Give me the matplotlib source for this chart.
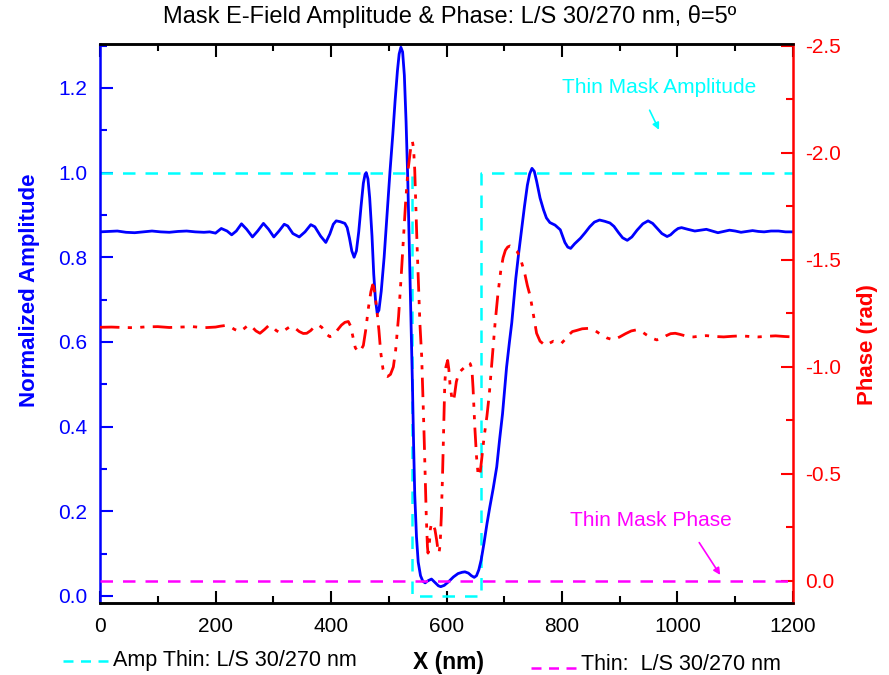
#!/usr/bin/env python3
# -*- coding: utf-8 -*-
"""Mask E-field amplitude & phase, L/S 30/270 nm, theta = 5 deg."""

import matplotlib as mpl
import matplotlib.pyplot as plt
from matplotlib.lines import Line2D
from matplotlib.ticker import FormatStrFormatter, MultipleLocator

mpl.rcParams["font.family"] = ["Liberation Sans", "DejaVu Sans"]
mpl.rcParams["axes.unicode_minus"] = False

# =======================
# Data
# =======================
AMP_X = [0, 15, 30, 45, 60, 75, 90, 105, 120, 135, 150, 165, 180, 190, 200,
         210, 220, 228, 236, 245, 254, 264, 273, 283, 292, 301, 310, 319, 325,
         334, 345, 355, 365, 372, 382, 391, 398, 404, 409, 416, 424, 428, 432,
         436, 440, 444, 448, 452, 456, 459, 461, 464, 467, 471, 474, 477, 480,
         483, 487, 492, 497, 502, 507, 511, 515, 518, 521, 524, 527, 530, 533,
         536, 539, 541, 543, 545, 548, 551, 555, 559, 563, 568, 574, 580, 586,
         590, 596, 603, 612, 620, 627, 632, 638, 643, 648, 652, 656, 660, 665,
         670, 675, 681, 687, 692, 697, 704, 709, 713, 720, 725, 730, 735, 740,
         744, 748, 752, 756, 762, 768, 773, 779, 788, 797, 805, 810, 815, 822,
         832, 840, 848, 856, 865, 874, 883, 890, 898, 905, 913, 921, 930, 940,
         949, 957, 965, 973, 982, 988, 995, 1001, 1007, 1018, 1030, 1040, 1050,
         1060, 1070, 1080, 1090, 1100, 1110, 1120, 1130, 1140, 1150, 1162,
         1175, 1187, 1200]
AMP_Y = [0.860, 0.861, 0.862, 0.859, 0.858, 0.860, 0.862, 0.860, 0.859, 0.861,
         0.862, 0.860, 0.859, 0.860, 0.857, 0.868, 0.862, 0.853, 0.862, 0.879,
         0.866, 0.848, 0.862, 0.880, 0.866, 0.848, 0.862, 0.878, 0.874, 0.856,
         0.848, 0.860, 0.877, 0.872, 0.850, 0.835, 0.855, 0.878, 0.886, 0.884,
         0.880, 0.870, 0.845, 0.815, 0.800, 0.815, 0.860, 0.920, 0.975, 0.996,
         1.000, 0.985, 0.940, 0.850, 0.760, 0.700, 0.668, 0.675, 0.720, 0.800,
         0.900, 1.000, 1.090, 1.170, 1.240, 1.280, 1.296, 1.285, 1.230, 1.120,
         0.980, 0.800, 0.628, 0.500, 0.360, 0.240, 0.140, 0.080, 0.048, 0.035,
         0.031, 0.036, 0.040, 0.032, 0.024, 0.022, 0.025, 0.033, 0.045, 0.053,
         0.056, 0.057, 0.054, 0.048, 0.044, 0.048, 0.062, 0.085, 0.125, 0.170,
         0.210, 0.255, 0.305, 0.370, 0.430, 0.540, 0.600, 0.645, 0.750, 0.810,
         0.865, 0.920, 0.970, 0.997, 1.010, 1.003, 0.980, 0.940, 0.912, 0.893,
         0.882, 0.876, 0.865, 0.835, 0.824, 0.821, 0.832, 0.845, 0.858, 0.872,
         0.883, 0.888, 0.885, 0.881, 0.873, 0.858, 0.846, 0.840, 0.848, 0.864,
         0.879, 0.886, 0.880, 0.868, 0.856, 0.849, 0.853, 0.862, 0.868, 0.870,
         0.866, 0.862, 0.864, 0.866, 0.862, 0.858, 0.861, 0.864, 0.862, 0.859,
         0.861, 0.863, 0.861, 0.860, 0.862, 0.862, 0.860, 0.860]

PH_X = [0, 20, 40, 60, 80, 100, 120, 140, 160, 180, 200, 208, 216, 224, 233,
        242, 250, 257, 262, 270, 277, 285, 292, 298, 305, 312, 320, 329, 336,
        345, 352, 358, 365, 372, 378, 384, 391, 398, 405, 412, 418, 424, 430,
        434, 438, 442, 447, 451, 456, 460, 465, 469, 472, 474, 477, 480, 483,
        486, 490, 494, 498, 503, 508, 512, 517, 521, 525, 529, 533, 537, 539,
        541, 543, 545, 547, 549, 552, 554, 557, 559, 561, 563, 565, 567, 568,
        570, 572, 574, 577, 580, 583, 585, 587, 589, 591, 593, 595, 597, 599,
        602, 604, 606, 609, 612, 614, 617, 621, 626, 632, 638, 641, 644, 646,
        649, 652, 655, 658, 661, 665, 670, 674, 678, 681, 684, 689, 694, 698,
        702, 706, 710, 714, 718, 722, 727, 732, 736, 740, 745, 750, 756, 762,
        771, 778, 785, 792, 799, 806, 812, 818, 825, 835, 846, 857, 868, 878,
        889, 900, 910, 920, 929, 938, 946, 955, 964, 972, 980, 988, 996, 1004,
        1012, 1020, 1028, 1040, 1050, 1065, 1080, 1095, 1110, 1125, 1140,
        1155, 1170, 1185, 1200]
PH_Y = [-1.185, -1.186, -1.184, -1.183, -1.187, -1.188, -1.184, -1.186, -1.188,
        -1.183, -1.186, -1.190, -1.193, -1.190, -1.175, -1.165, -1.180, -1.196,
        -1.190, -1.168, -1.157, -1.175, -1.193, -1.190, -1.170, -1.159, -1.172,
        -1.188, -1.185, -1.165, -1.156, -1.157, -1.170, -1.190, -1.196, -1.185,
        -1.155, -1.141, -1.150, -1.175, -1.195, -1.208, -1.212, -1.190, -1.140,
        -1.090, -1.070, -1.075, -1.100, -1.170, -1.280, -1.350, -1.383, -1.375,
        -1.320, -1.250, -1.170, -1.070, -0.990, -0.960, -0.955, -0.965, -1.000,
        -1.080, -1.235, -1.400, -1.580, -1.760, -1.910, -2.000, -2.040, -2.053,
        -2.020, -1.920, -1.750, -1.570, -1.350, -1.200, -1.050, -0.880, -0.700,
        -0.500, -0.300, -0.160, -0.130, -0.160, -0.240, -0.270, -0.260, -0.240,
        -0.190, -0.150, -0.130, -0.170, -0.300, -0.480, -0.700, -0.920, -1.000,
        -1.030, -0.990, -0.920, -0.860, -0.840, -0.870, -0.930, -0.970, -0.985,
        -1.000, -1.020, -1.015, -0.990, -0.900, -0.720, -0.580, -0.490, -0.500,
        -0.570, -0.670, -0.770, -0.870, -1.000, -1.100, -1.200, -1.340, -1.450,
        -1.510, -1.545, -1.560, -1.565, -1.560, -1.550, -1.540, -1.515, -1.470,
        -1.430, -1.380, -1.330, -1.250, -1.157, -1.120, -1.100, -1.110, -1.120,
        -1.115, -1.110, -1.130, -1.150, -1.165, -1.170, -1.178, -1.180, -1.170,
        -1.150, -1.135, -1.126, -1.140, -1.155, -1.168, -1.173, -1.165, -1.150,
        -1.135, -1.126, -1.132, -1.145, -1.155, -1.157, -1.152, -1.146, -1.141,
        -1.140, -1.144, -1.146, -1.142, -1.140, -1.143, -1.145, -1.142, -1.140,
        -1.143, -1.145, -1.142, -1.140]

THIN_AMP_X = [0, 540, 540, 660, 660, 1200]
THIN_AMP_Y = [1.0, 1.0, 0.0, 0.0, 1.0, 1.0]

THIN_PH_X = [0, 1200]
THIN_PH_Y = [0.0, 0.0]

TITLE = "Mask E-Field Amplitude & Phase: L/S 30/270 nm, \u03b8=5\u00ba"

BLUE = "#0000ff"
RED = "#ff0000"
CYAN = "#00ffff"
MAGENTA = "#ff00ff"


def main():
    fig = plt.figure(figsize=(8.89, 6.75), dpi=100)
    ax = fig.add_axes([0.1125, 0.1067, 0.7795, 0.8283])
    ax2 = ax.twinx()

    ax.plot(THIN_AMP_X, THIN_AMP_Y, color=CYAN, lw=1.8, ls=(0, (5, 4)))
    ax.plot(AMP_X, AMP_Y, color=BLUE, lw=2.0)
    ax2.plot(PH_X, PH_Y, color=RED, lw=2.0, ls=(0, (7, 3, 1.5, 3, 1.5, 3)))
    ax2.plot(THIN_PH_X, THIN_PH_Y, color=MAGENTA, lw=1.8, ls=(0, (5, 4)))

    ax.set_xlim(0, 1200)
    ax.set_ylim(-0.0165, 1.304)
    ax2.set_ylim(0.103, -2.509)

    ax.xaxis.set_major_locator(MultipleLocator(200))
    ax.xaxis.set_minor_locator(MultipleLocator(100))
    ax.yaxis.set_major_locator(MultipleLocator(0.2))
    ax.yaxis.set_minor_locator(MultipleLocator(0.1))
    ax2.yaxis.set_major_locator(MultipleLocator(0.5))
    ax2.yaxis.set_minor_locator(MultipleLocator(0.25))
    ax.yaxis.set_major_formatter(FormatStrFormatter("%.1f"))
    ax2.yaxis.set_major_formatter(FormatStrFormatter("%.1f"))

    ax.tick_params(axis="x", which="both", direction="in", top=True,
                   colors="black", labelsize=15, pad=10, width=1.5)
    ax.tick_params(axis="x", which="major", length=9)
    ax.tick_params(axis="x", which="minor", length=5)
    ax.tick_params(axis="y", which="both", direction="in", colors=BLUE,
                   labelsize=15, pad=9, width=1.5)
    ax.tick_params(axis="y", which="major", length=9)
    ax.tick_params(axis="y", which="minor", length=5)
    ax2.tick_params(axis="y", which="both", direction="in", colors=RED,
                    labelsize=15, pad=9, width=1.5)
    ax2.tick_params(axis="y", which="major", length=9)
    ax2.tick_params(axis="y", which="minor", length=5)

    for a in (ax, ax2):
        for s in a.spines.values():
            s.set_linewidth(1.8)
    ax.spines["right"].set_visible(False)
    ax2.spines["left"].set_visible(False)
    ax.spines["left"].set_color(BLUE)
    ax2.spines["right"].set_color(RED)
    ax2.spines["top"].set_color("black")
    ax2.spines["bottom"].set_color("black")

    fig.text(0.506, 0.976, TITLE, ha="center", va="center", fontsize=17)
    fig.text(0.033, 0.57, "Normalized Amplitude", rotation=90, ha="center",
             va="center", fontsize=16, fontweight="bold", color=BLUE)
    fig.text(0.976, 0.49, "Phase (rad)", rotation=90, ha="center",
             va="center", fontsize=16, fontweight="bold", color=RED)
    fig.text(0.505, 0.019, "X (nm)", ha="center", va="center",
             fontsize=16.5, fontweight="bold")

    # bottom legend entries
    fig.add_artist(Line2D([0.071, 0.121], [0.021, 0.021], color=CYAN,
                          lw=1.8, ls=(0, (4, 3)), transform=fig.transFigure))
    fig.text(0.127, 0.022, "Amp Thin: L/S 30/270 nm", ha="left",
             va="center", fontsize=15.5)
    fig.add_artist(Line2D([0.597, 0.650], [0.011, 0.011], color=MAGENTA,
                          lw=1.8, ls=(0, (4, 3)), transform=fig.transFigure))
    fig.text(0.653, 0.015, "Thin:  L/S 30/270 nm", ha="left",
             va="center", fontsize=15.5)

    # annotations
    ax.annotate("Thin Mask Amplitude", xy=(968, 1.101), xytext=(968, 1.20),
                ha="center", va="center", color=CYAN, fontsize=15,
                arrowprops=dict(arrowstyle="-|>", color=CYAN, lw=1.2,
                                mutation_scale=10, shrinkA=8, shrinkB=0,
                                relpos=(0.42, 0.0)))
    ax2.annotate("Thin Mask Phase", xy=(1074, -0.028), xytext=(954, -0.28),
                 ha="center", va="center", color=MAGENTA, fontsize=15,
                 arrowprops=dict(arrowstyle="-|>", color=MAGENTA, lw=1.2,
                                 mutation_scale=10, shrinkA=8, shrinkB=0,
                                 relpos=(0.75, 0.0)))

    fig.savefig("out.png", dpi=100)


if __name__ == "__main__":
    main()
